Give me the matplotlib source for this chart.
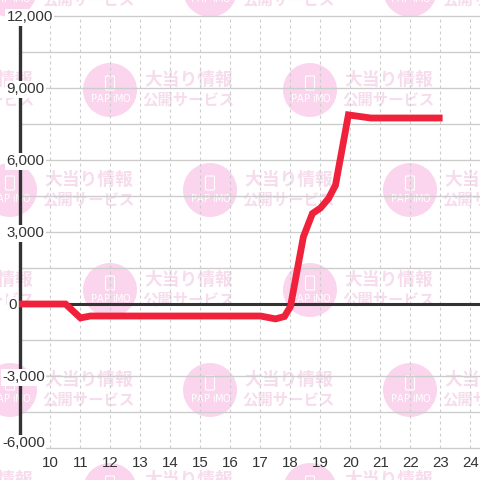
import matplotlib
matplotlib.use("Agg")
import matplotlib.pyplot as plt
from matplotlib.patches import Circle, FancyBboxPatch

plt.rcParams["font.family"] = ["Liberation Sans", "DejaVu Sans"]

hours = [8.95, 10.5, 11.0, 11.33, 17.0, 17.5, 17.8, 18.0, 18.43, 18.73, 19.0, 19.27, 19.5, 19.93, 20.67, 23.07]
diff = [0, 0, -580, -500, -500, -620, -520, -100, 2800, 3770, 4000, 4400, 4950, 7880, 7750, 7750]

x_ticks = list(range(10, 25))
y_major = [12000, 9000, 6000, 3000, 0, -3000, -6000]
y_labels = ["12,000", "9,000", "6,000", "3,000", "0", "-3,000", "-6,000"]
y_label_left = [6.5, 6.5, 6.5, 6.5, 8, 2, 2]
y_grid = list(range(-6000, 12001, 1500))

GRID = "#cccccc"
DARK = "#333333"
RED = "#f0213a"
PINK = "#fbd5ee"
PINK_TEXT = "#f6dcec"

fig = plt.figure(figsize=(4.8, 4.8), dpi=100)

# watermark layer, in pixels
bg = fig.add_axes([0, 0, 1, 1], zorder=0)
bg.set_xlim(0, 480)
bg.set_ylim(480, 0)
bg.axis("off")


def watermark(cx, cy):
    bg.add_patch(Circle((cx, cy), 27, fc=PINK, ec="none"))
    bg.add_patch(FancyBboxPatch((cx - 3.5, cy - 13), 7, 12,
                                boxstyle="round,pad=1", fc="none", ec="white", lw=0.8))
    for i, ch in enumerate("PAPiMO"):
        bg.text(cx - 16 + i * 6.4, cy + 9, ch, color="white", fontsize=7, ha="center", va="center",
                family="DejaVu Sans")
    cjk = ["Noto Sans CJK JP", "DejaVu Sans"]
    bg.text(cx + 78.5, cy - 10, "大当り情報", color=PINK_TEXT, fontsize=12.8, weight="bold",
            ha="center", va="center", family=cjk, clip_on=True)
    bg.text(cx + 78, cy + 9, "公開サービス", color=PINK_TEXT, fontsize=11.1, weight="bold",
            ha="center", va="center", family=cjk, clip_on=True)


for row in [-10, 190, 390]:
    for cx in [10, 210, 410]:
        watermark(cx, row)
for row in [90, 290, 490]:
    for cx in [-90, 110, 310]:
        watermark(cx, row)

ax = fig.add_axes([0, 0, 1, 1], zorder=1)
ax.patch.set_alpha(0)
ax.set_xlim(8.317, 24.317)
ax.set_ylim(-7333, 12667)
ax.axis("off")

for v in y_grid:
    ax.plot([9, 24.317], [v, v], color=GRID, lw=1.0, zorder=1, solid_capstyle="butt")
for h in x_ticks:
    ax.plot([h, h], [-6000, 12000], color=GRID, lw=0.8, ls=(0, (2.6, 2.8)), zorder=1)

ax.plot([9, 24.317], [0, 0], color=DARK, lw=2.2, zorder=2, solid_capstyle="butt")
ax.plot([9, 9], [-5460, 11670], color=DARK, lw=2.4, zorder=2, solid_capstyle="butt")

ax.plot(hours, diff, color=RED, lw=4.9, zorder=3, solid_joinstyle="miter", solid_capstyle="butt")

# the lowest label sits above its grid line
for v, lab, px in zip(y_major, y_labels, y_label_left):
    y = v + 190 if v == -6000 else v - 60
    ax.text(8.317 + px / 30, y, lab, color=DARK, fontsize=10.8, ha="left", va="center", zorder=4,
            bbox=dict(fc="white", ec="none", pad=1))
for h in x_ticks:
    ax.text(h, -6620, str(h), color=DARK, fontsize=10.8, ha="center", va="center", zorder=4)

fig.savefig("out.png", dpi=100)
